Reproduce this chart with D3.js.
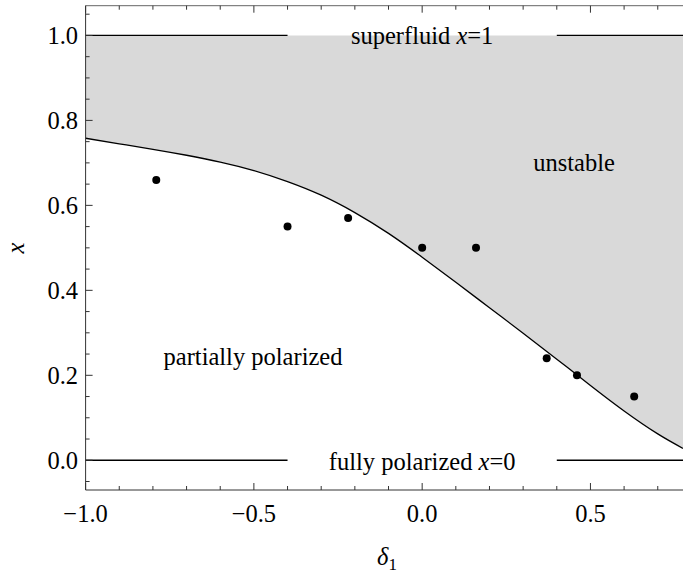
<!DOCTYPE html>
<html><head><meta charset="utf-8">
<script src="https://cdn.jsdelivr.net/npm/d3@7"></script>
<style>body{margin:0;background:#fff}svg{display:block}text{font-family:"Liberation Serif","Times New Roman",serif}</style>
</head><body><svg id="c" width="683" height="574"></svg>
<script>
// data
const boundaryDelta = [-1.0,-0.9,-0.8,-0.7,-0.6,-0.5,-0.4,-0.3,-0.2,-0.1,0.0,0.1,0.2,0.3,0.4,0.5,0.6,0.7,0.775];
const boundaryX     = [0.758,0.745,0.732,0.718,0.702,0.682,0.656,0.624,0.583,0.534,0.478,0.419,0.359,0.299,0.238,0.176,0.116,0.062,0.028];
const pointDelta = [-0.79,-0.40,-0.22,0.0,0.16,0.37,0.46,0.63];
const pointX     = [0.66,0.55,0.57,0.50,0.50,0.24,0.20,0.15];
const xMajor = [-1.0,-0.5,0.0,0.5];
const xMajorLabels = ["\u22121.0","\u22120.5","0.0","0.5"];
const yMajor = [0.0,0.2,0.4,0.6,0.8,1.0];
const yMajorLabels = ["0.0","0.2","0.4","0.6","0.8","1.0"];
const segments1 = [[-1.0,-0.4],[0.4,0.775]];
const segments0 = [[-1.0,-0.4],[0.4,0.775]];

const svg = d3.select("#c");
const L=85.6, R=683, T=5.7, B=490;
const x = d3.scaleLinear().domain([-1,0.775]).range([L,R]);
const y = d3.scaleLinear().domain([-0.07,1.07]).range([B,T]);

const curve = boundaryDelta.map((d,i)=>({d, v:boundaryX[i]}));
svg.append("path").datum(curve)
  .attr("d", d3.area().x(p=>x(p.d)).y0(y(1)).y1(p=>y(p.v)).curve(d3.curveNatural))
  .attr("fill","#d9d9d9");
svg.append("path").datum(curve)
  .attr("d", d3.line().x(p=>x(p.d)).y(p=>y(p.v)).curve(d3.curveNatural))
  .attr("fill","none").attr("stroke","#000").attr("stroke-width",1.3);

[[segments1,1],[segments0,0]].forEach(([segs,v])=>{
  segs.forEach(s=>svg.append("line").attr("x1",x(s[0])).attr("x2",x(s[1]))
    .attr("y1",y(v)).attr("y2",y(v)).attr("stroke","#000").attr("stroke-width",1.3));
});

svg.selectAll("circle.pt").data(pointDelta).join("circle")
  .attr("cx",(d)=>x(d)).attr("cy",(d,i)=>y(pointX[i])).attr("r",4).attr("fill","#000");

// frame
const fc="#333";
svg.append("line").attr("x1",L).attr("x2",L).attr("y1",T).attr("y2",B).attr("stroke",fc);
svg.append("line").attr("x1",L).attr("x2",R).attr("y1",B).attr("y2",B).attr("stroke",fc);
svg.append("line").attr("x1",L).attr("x2",R).attr("y1",T).attr("y2",T).attr("stroke","#666");

const xMinor = d3.range(-10,8).map(i=>i/10).filter(v=>!xMajor.some(m=>Math.abs(m-v)<1e-9));
const yMinor = d3.range(-1,22).map(i=>i/20).filter(v=>!yMajor.some(m=>Math.abs(m-v)<1e-9));
function ticks(vals,len,side){
  vals.forEach(v=>{
    if(side==="b") svg.append("line").attr("x1",x(v)).attr("x2",x(v)).attr("y1",B).attr("y2",B-len).attr("stroke",fc);
    if(side==="t") svg.append("line").attr("x1",x(v)).attr("x2",x(v)).attr("y1",T).attr("y2",T+len).attr("stroke",fc);
    if(side==="l") svg.append("line").attr("x1",L).attr("x2",L+len).attr("y1",y(v)).attr("y2",y(v)).attr("stroke",fc);
  });
}
ticks(xMajor,7,"b"); ticks(xMinor,4,"b"); ticks(xMajor,7,"t"); ticks(xMinor,4,"t");
ticks(yMajor,7,"l"); ticks(yMinor,4,"l");

const fs=24.5;
xMajor.forEach((v,i)=>svg.append("text").attr("x",x(v)).attr("y",522).attr("text-anchor","middle")
  .attr("font-size",fs).text(xMajorLabels[i]));
yMajor.forEach((v,i)=>svg.append("text").attr("x",78).attr("y",y(v)+8.5).attr("text-anchor","end")
  .attr("font-size",fs).text(yMajorLabels[i]));

// axis labels
const xl = svg.append("text").attr("x",387).attr("y",565).attr("text-anchor","middle").attr("font-size",fs);
xl.append("tspan").attr("font-style","italic").text("\u03b4");
xl.append("tspan").attr("font-size",17).attr("dy",5).text("1");
svg.append("text").attr("transform","translate(24,248) rotate(-90)").attr("text-anchor","middle")
  .attr("font-size",fs).attr("font-style","italic").text("x");

// region labels
function lab(t,cx,by,italicPart,rest){
  const e=svg.append("text").attr("x",cx).attr("y",by).attr("text-anchor","middle").attr("font-size",fs);
  e.append("tspan").text(t);
  if(italicPart){ e.append("tspan").attr("font-style","italic").text(italicPart); e.append("tspan").text(rest); }
}
lab("superfluid ",x(0),43.5,"x","=1");
lab("fully polarized ",x(0),469.5,"x","=0");
lab("unstable",574,170.5);
lab("partially polarized",253,365);
</script></body></html>
